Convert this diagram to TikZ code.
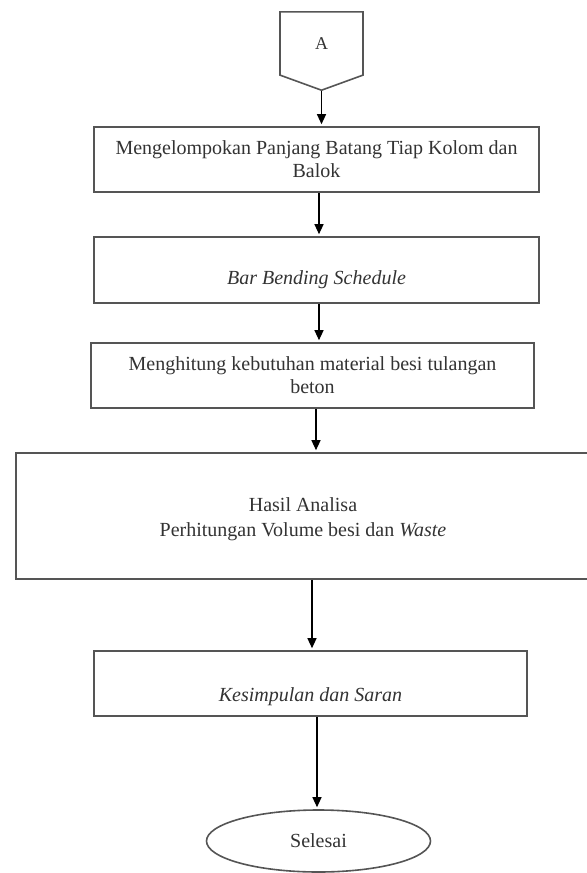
\documentclass[tikz,border=0pt]{standalone}
\usepackage{fontspec}
\setmainfont{Liberation Serif}
\usepackage{xcolor}
\definecolor{flowline}{HTML}{555555}
\definecolor{flowtext}{HTML}{333333}
\usetikzlibrary{shapes.geometric, shapes.symbols, arrows.meta, positioning}

\begin{document}
\begin{tikzpicture}[x=0.5pt, y=-0.5pt,
  flowbox/.style={rectangle, draw=flowline, line width=0.8pt, fill=white,
    minimum height=32.5pt, align=center, text=flowtext,
    font=\fontsize{10}{11.5}\selectfont},
  flowarrow/.style={-{Triangle[length=5pt,width=4.5pt]}, line width=0.6pt,
    black, shorten >=1pt}]
\useasboundingbox (0,0) rectangle (587,873);
\node[signal, signal to=south, signal pointer angle=140, draw=flowline,
      line width=0.8pt, minimum width=41.5pt, minimum height=34pt,
      text=flowtext, font=\fontsize{9}{11}\selectfont] (conA) at (321.5,43.5) {A};
\node[flowbox, minimum width=222.5pt] (grouping) at (316.5,159.5)
  {Mengelompokan Panjang Batang Tiap Kolom dan\\ Balok};
\node[flowbox, minimum width=222.5pt, minimum height=33pt, text height=16.8pt]
  (schedule) at (316.5,270) {\textit{Bar Bending Schedule}};
\node[flowbox, minimum width=221.5pt] (material) at (312.5,375.5)
  {Menghitung kebutuhan material besi tulangan\\ beton};
\node[flowbox, minimum width=287pt, minimum height=63pt, text height=23pt,
      font=\fontsize{10}{12.5}\selectfont] (result) at (303,516)
  {Hasil Analisa\\ Perhitungan Volume besi dan \textit{Waste}};
\node[flowbox, minimum width=216.5pt, text height=19.8pt] (conclusion)
  at (310.5,683.5) {\textit{Kesimpulan dan Saran}};
\node[ellipse, draw=flowline, line width=0.8pt, minimum width=112pt,
      minimum height=31pt, text=flowtext, font=\fontsize{10}{12}\selectfont]
  (finish) at (318.5,841) {Selesai};
% arrows
\draw[flowarrow] (conA.south) -- (conA.south |- grouping.north);
\draw[flowarrow] ([xshift=1.25pt]grouping.south) -- ([xshift=1.25pt]grouping.south |- schedule.north);
\draw[flowarrow] ([xshift=1.25pt]schedule.south) -- ([xshift=1.25pt]schedule.south |- material.north);
\draw[flowarrow] ([xshift=1.75pt]material.south) -- ([xshift=1.75pt]material.south |- result.north);
\draw[flowarrow] ([xshift=4.5pt]result.south) -- ([xshift=4.5pt]result.south |- conclusion.north);
\draw[flowarrow] ([xshift=3.25pt]conclusion.south) -- ([xshift=3.25pt]conclusion.south |- finish.north);
\end{tikzpicture}
\end{document}
